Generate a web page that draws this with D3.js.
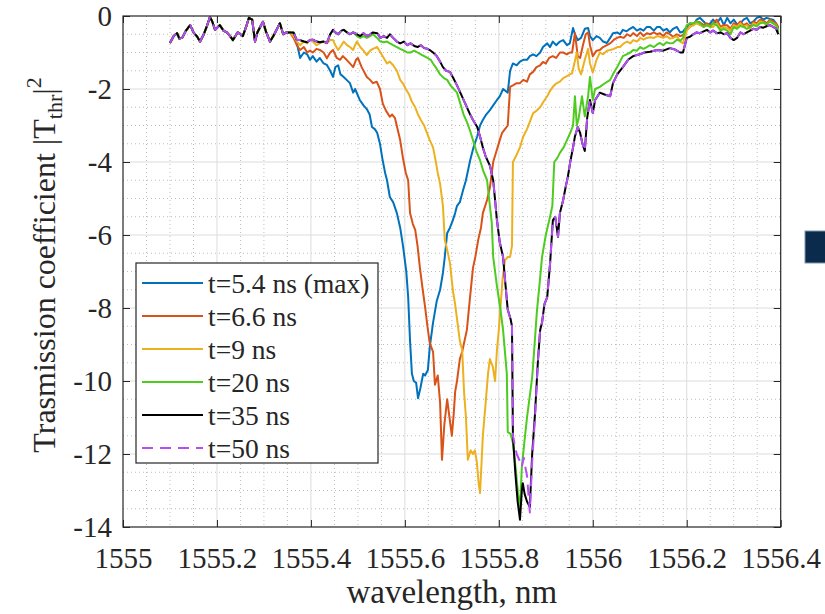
<!DOCTYPE html>
<html><head><meta charset="utf-8">
<script src="https://cdn.jsdelivr.net/npm/d3@7"></script>
<style>html,body{margin:0;padding:0;background:#fff;}svg{display:block;}</style>
</head><body>
<svg id="c" width="825" height="614"></svg>
<script>
// ---------------- DATA ----------------
const xTicks = [1555, 1555.2, 1555.4, 1555.6, 1555.8, 1556, 1556.2, 1556.4];
const xTickLabels = ["1555","1555.2","1555.4","1555.6","1555.8","1556","1556.2","1556.4"];
const yTicks = [0, -2, -4, -6, -8, -10, -12, -14];
const yTickLabels = ["0","-2","-4","-6","-8","-10","-12","-14"];
const seriesNames = ["t=5.4 ns (max)", "t=6.6 ns", "t=9 ns", "t=20 ns", "t=35 ns", "t=50 ns"];
const seriesColors = ["#0072BD", "#D95319", "#EDB120", "#4DCB1E", "#000000", "#B54EF5"];

// shared beginning (all curves coincide)
const commonStart = [[1555.100,-0.74],[1555.108,-0.55],[1555.115,-0.47],[1555.120,-0.62],[1555.126,-0.6],[1555.134,-0.4],[1555.143,-0.25],[1555.150,-0.45],[1555.157,-0.55],[1555.164,-0.7],[1555.172,-0.5],[1555.178,-0.3],[1555.185,-0.03],[1555.190,-0.15],[1555.196,-0.38],[1555.206,-0.25],[1555.214,-0.4],[1555.221,-0.45],[1555.228,-0.55],[1555.234,-0.66],[1555.244,-0.45],[1555.250,-0.5],[1555.255,-0.55],[1555.262,-0.3],[1555.268,-0.05],[1555.275,-0.1],[1555.281,-0.7],[1555.286,-0.45],[1555.292,-0.3],[1555.298,-0.16],[1555.305,-0.45],[1555.313,-0.7],[1555.320,-0.55],[1555.328,-0.35],[1555.334,-0.2],[1555.341,-0.5],[1555.348,-0.45],[1555.355,-0.45]];

const blueTail = [[1555.363,-0.5],[1555.370,-0.74],[1555.377,-1.15],[1555.385,-1.0],[1555.392,-1.05],[1555.398,-1.2],[1555.404,-1.1],[1555.412,-1.25],[1555.419,-1.15],[1555.427,-1.3],[1555.434,-1.34],[1555.441,-1.5],[1555.447,-1.67],[1555.452,-1.4],[1555.458,-1.35],[1555.463,-1.6],[1555.468,-1.65],[1555.476,-1.75],[1555.483,-1.84],[1555.490,-2.1],[1555.494,-2.0],[1555.504,-2.3],[1555.512,-2.45],[1555.519,-2.55],[1555.525,-2.7],[1555.530,-3.04],[1555.536,-3.1],[1555.541,-3.2],[1555.547,-3.5],[1555.552,-3.9],[1555.558,-4.3],[1555.562,-4.5],[1555.568,-4.96],[1555.575,-5.1],[1555.583,-5.4],[1555.590,-5.8],[1555.596,-6.3],[1555.603,-7.0],[1555.607,-7.7],[1555.611,-8.9],[1555.615,-9.8],[1555.619,-10.0],[1555.624,-10.05],[1555.628,-10.47],[1555.633,-10.2],[1555.639,-9.8],[1555.643,-9.85],[1555.649,-9.7],[1555.653,-9.07],[1555.660,-8.4],[1555.668,-7.8],[1555.675,-7.5],[1555.681,-7.04],[1555.685,-6.6],[1555.690,-5.95],[1555.696,-5.8],[1555.702,-5.6],[1555.707,-5.4],[1555.711,-5.2],[1555.717,-5.1],[1555.724,-4.77],[1555.730,-4.5],[1555.739,-3.95],[1555.746,-3.6],[1555.754,-3.3],[1555.760,-3.0],[1555.766,-2.85],[1555.773,-2.7],[1555.781,-2.58],[1555.788,-2.45],[1555.796,-2.3],[1555.802,-2.2],[1555.809,-2.0],[1555.819,-2.1],[1555.824,-1.5],[1555.830,-1.3],[1555.838,-1.35],[1555.845,-1.25],[1555.852,-1.2],[1555.860,-1.2],[1555.866,-1.1],[1555.873,-1.05],[1555.880,-1.1],[1555.888,-1.0],[1555.894,-0.85],[1555.903,-0.75],[1555.909,-0.85],[1555.915,-0.7],[1555.922,-0.8],[1555.930,-0.7],[1555.937,-0.66],[1555.945,-0.8],[1555.951,-0.75],[1555.958,-0.33],[1555.962,-0.5],[1555.968,-0.66],[1555.975,-0.6],[1555.983,-0.35],[1555.990,-0.33],[1555.994,-0.55],[1556.000,-0.66],[1556.008,-0.55],[1556.015,-0.6],[1556.022,-0.7],[1556.030,-0.74],[1556.037,-0.6],[1556.043,-0.47],[1556.052,-0.45],[1556.058,-0.5],[1556.064,-0.38],[1556.072,-0.42],[1556.079,-0.35],[1556.086,-0.3],[1556.094,-0.4],[1556.101,-0.35],[1556.108,-0.4],[1556.115,-0.3],[1556.122,-0.3],[1556.130,-0.4],[1556.137,-0.3],[1556.143,-0.3],[1556.150,-0.4],[1556.157,-0.35],[1556.164,-0.45],[1556.171,-0.35],[1556.179,-0.3],[1556.186,-0.45],[1556.192,-0.43],[1556.200,-0.3],[1556.207,-0.2],[1556.214,-0.25],[1556.221,-0.1],[1556.228,-0.05],[1556.236,-0.15],[1556.243,-0.25],[1556.250,-0.2],[1556.256,-0.1],[1556.264,-0.2],[1556.272,-0.05],[1556.279,-0.25],[1556.286,-0.05],[1556.293,-0.2],[1556.300,-0.1],[1556.307,-0.23],[1556.314,-0.2],[1556.321,-0.1],[1556.328,-0.05],[1556.335,-0.2],[1556.342,-0.15],[1556.349,-0.05],[1556.356,-0.02],[1556.363,-0.1],[1556.370,-0.05],[1556.377,-0.08],[1556.384,-0.1],[1556.390,-0.2],[1556.395,-0.35]];

const orangeTail = [[1555.363,-0.6],[1555.370,-0.8],[1555.377,-0.93],[1555.385,-0.85],[1555.392,-1.0],[1555.398,-0.95],[1555.404,-1.0],[1555.412,-0.9],[1555.419,-0.93],[1555.427,-1.0],[1555.434,-1.16],[1555.441,-1.0],[1555.447,-0.93],[1555.455,-1.15],[1555.462,-1.2],[1555.468,-1.1],[1555.476,-1.2],[1555.483,-1.3],[1555.490,-1.4],[1555.496,-1.2],[1555.500,-1.15],[1555.508,-1.4],[1555.519,-1.67],[1555.526,-1.75],[1555.532,-1.84],[1555.540,-1.8],[1555.547,-2.0],[1555.553,-2.4],[1555.560,-2.6],[1555.568,-2.76],[1555.573,-2.7],[1555.579,-2.8],[1555.590,-3.4],[1555.596,-3.9],[1555.602,-4.3],[1555.607,-4.5],[1555.611,-5.4],[1555.617,-5.7],[1555.622,-5.86],[1555.627,-6.3],[1555.632,-6.9],[1555.638,-7.5],[1555.643,-7.97],[1555.648,-8.5],[1555.653,-8.96],[1555.660,-9.2],[1555.664,-10.1],[1555.670,-9.85],[1555.675,-10.6],[1555.679,-12.16],[1555.684,-11.2],[1555.690,-10.5],[1555.695,-11.0],[1555.700,-11.5],[1555.704,-10.9],[1555.707,-10.3],[1555.711,-10.0],[1555.717,-9.4],[1555.722,-9.2],[1555.732,-8.6],[1555.738,-7.8],[1555.745,-6.9],[1555.750,-6.6],[1555.756,-6.14],[1555.762,-5.8],[1555.766,-5.4],[1555.775,-5.04],[1555.781,-4.7],[1555.788,-4.0],[1555.795,-3.7],[1555.802,-3.4],[1555.807,-3.2],[1555.813,-3.1],[1555.819,-3.0],[1555.824,-1.94],[1555.830,-1.9],[1555.838,-1.84],[1555.845,-1.84],[1555.852,-1.75],[1555.860,-1.8],[1555.866,-1.6],[1555.873,-1.53],[1555.880,-1.4],[1555.888,-1.35],[1555.894,-1.26],[1555.900,-1.3],[1555.907,-1.15],[1555.915,-1.1],[1555.922,-1.15],[1555.930,-1.0],[1555.937,-1.0],[1555.945,-1.05],[1555.951,-1.0],[1555.956,-1.0],[1555.962,-0.47],[1555.968,-1.1],[1555.973,-1.15],[1555.979,-0.8],[1555.985,-0.5],[1555.990,-0.45],[1555.994,-0.8],[1556.000,-1.1],[1556.008,-0.95],[1556.015,-0.93],[1556.022,-0.85],[1556.030,-0.8],[1556.037,-0.75],[1556.045,-0.65],[1556.052,-0.6],[1556.058,-0.57],[1556.066,-0.6],[1556.073,-0.5],[1556.080,-0.55],[1556.086,-0.47],[1556.094,-0.55],[1556.101,-0.45],[1556.108,-0.55],[1556.115,-0.47],[1556.122,-0.5],[1556.130,-0.45],[1556.137,-0.5],[1556.143,-0.47],[1556.150,-0.55],[1556.157,-0.45],[1556.164,-0.5],[1556.171,-0.57],[1556.179,-0.5],[1556.186,-0.55],[1556.192,-0.52],[1556.200,-0.35],[1556.207,-0.3],[1556.214,-0.2],[1556.221,-0.15],[1556.228,-0.17],[1556.236,-0.25],[1556.243,-0.2],[1556.250,-0.25],[1556.256,-0.2],[1556.264,-0.1],[1556.272,-0.3],[1556.279,-0.25],[1556.286,-0.25],[1556.293,-0.35],[1556.300,-0.2],[1556.307,-0.25],[1556.314,-0.15],[1556.321,-0.25],[1556.328,-0.2],[1556.335,-0.3],[1556.342,-0.15],[1556.349,-0.2],[1556.356,-0.1],[1556.363,-0.12],[1556.370,-0.2],[1556.377,-0.1],[1556.384,-0.15],[1556.390,-0.2],[1556.395,-0.3]];

const yellowTail = [[1555.363,-0.55],[1555.370,-0.7],[1555.377,-0.8],[1555.385,-0.7],[1555.392,-0.75],[1555.398,-0.65],[1555.404,-0.7],[1555.412,-0.8],[1555.419,-0.75],[1555.427,-0.7],[1555.434,-0.75],[1555.441,-0.66],[1555.447,-0.66],[1555.452,-0.8],[1555.458,-0.93],[1555.465,-0.8],[1555.470,-0.7],[1555.477,-0.8],[1555.483,-0.85],[1555.490,-0.93],[1555.494,-0.8],[1555.498,-0.7],[1555.505,-0.85],[1555.512,-0.95],[1555.519,-1.07],[1555.526,-0.95],[1555.532,-0.9],[1555.541,-0.85],[1555.548,-1.0],[1555.555,-1.15],[1555.562,-1.3],[1555.568,-1.25],[1555.575,-1.35],[1555.583,-1.5],[1555.590,-1.75],[1555.596,-1.85],[1555.602,-2.0],[1555.609,-2.15],[1555.615,-2.35],[1555.622,-2.5],[1555.628,-2.7],[1555.634,-2.85],[1555.641,-3.0],[1555.647,-3.2],[1555.653,-3.4],[1555.660,-3.6],[1555.666,-4.0],[1555.670,-4.3],[1555.675,-4.6],[1555.681,-5.2],[1555.685,-6.14],[1555.690,-6.4],[1555.696,-6.77],[1555.702,-7.5],[1555.707,-7.9],[1555.711,-8.3],[1555.717,-8.9],[1555.722,-9.15],[1555.726,-10.3],[1555.730,-11.0],[1555.734,-12.16],[1555.740,-11.9],[1555.745,-12.0],[1555.749,-11.9],[1555.753,-12.2],[1555.757,-12.8],[1555.760,-13.07],[1555.763,-12.3],[1555.766,-11.5],[1555.772,-10.6],[1555.777,-9.8],[1555.781,-9.4],[1555.787,-9.6],[1555.792,-10.0],[1555.796,-9.15],[1555.800,-8.6],[1555.804,-7.9],[1555.808,-7.2],[1555.813,-6.7],[1555.819,-6.6],[1555.824,-6.6],[1555.828,-6.3],[1555.830,-4.0],[1555.838,-3.8],[1555.845,-3.6],[1555.852,-3.3],[1555.860,-3.1],[1555.866,-2.9],[1555.873,-2.66],[1555.880,-2.6],[1555.888,-2.5],[1555.895,-2.35],[1555.903,-2.2],[1555.909,-2.05],[1555.915,-1.94],[1555.922,-1.85],[1555.930,-1.8],[1555.937,-1.7],[1555.945,-1.65],[1555.951,-1.6],[1555.956,-1.57],[1555.966,-1.0],[1555.970,-1.45],[1555.975,-1.6],[1555.983,-1.2],[1555.990,-0.9],[1555.994,-1.3],[1556.000,-1.55],[1556.008,-1.2],[1556.015,-1.0],[1556.022,-1.05],[1556.030,-0.95],[1556.037,-0.93],[1556.045,-0.9],[1556.052,-0.85],[1556.058,-0.85],[1556.066,-0.75],[1556.073,-0.7],[1556.080,-0.75],[1556.086,-0.66],[1556.094,-0.7],[1556.101,-0.6],[1556.108,-0.65],[1556.115,-0.6],[1556.122,-0.58],[1556.130,-0.6],[1556.137,-0.55],[1556.143,-0.57],[1556.150,-0.6],[1556.157,-0.55],[1556.164,-0.62],[1556.171,-0.6],[1556.179,-0.55],[1556.186,-0.7],[1556.192,-0.75],[1556.200,-0.4],[1556.207,-0.3],[1556.214,-0.25],[1556.221,-0.2],[1556.228,-0.25],[1556.236,-0.3],[1556.243,-0.25],[1556.250,-0.3],[1556.256,-0.3],[1556.264,-0.2],[1556.272,-0.35],[1556.279,-0.3],[1556.286,-0.33],[1556.293,-0.4],[1556.300,-0.25],[1556.307,-0.3],[1556.314,-0.2],[1556.321,-0.3],[1556.328,-0.25],[1556.335,-0.35],[1556.342,-0.2],[1556.349,-0.25],[1556.356,-0.15],[1556.363,-0.18],[1556.370,-0.25],[1556.377,-0.15],[1556.384,-0.2],[1556.390,-0.25],[1556.395,-0.4]];

const greenTail = [[1555.363,-0.45],[1555.370,-0.66],[1555.377,-0.66],[1555.385,-0.7],[1555.392,-0.72],[1555.398,-0.66],[1555.404,-0.65],[1555.412,-0.7],[1555.419,-0.72],[1555.427,-0.7],[1555.434,-0.74],[1555.441,-0.5],[1555.447,-0.4],[1555.452,-0.45],[1555.458,-0.5],[1555.465,-0.4],[1555.470,-0.38],[1555.477,-0.45],[1555.483,-0.5],[1555.490,-0.45],[1555.498,-0.55],[1555.505,-0.6],[1555.512,-0.55],[1555.519,-0.6],[1555.526,-0.55],[1555.532,-0.5],[1555.541,-0.6],[1555.548,-0.7],[1555.555,-0.72],[1555.562,-0.7],[1555.568,-0.75],[1555.575,-0.8],[1555.583,-0.85],[1555.590,-0.9],[1555.598,-0.95],[1555.605,-1.0],[1555.612,-1.0],[1555.620,-0.95],[1555.627,-1.0],[1555.634,-1.05],[1555.641,-1.1],[1555.648,-1.15],[1555.655,-1.2],[1555.660,-1.3],[1555.668,-1.45],[1555.675,-1.6],[1555.683,-1.7],[1555.690,-1.75],[1555.697,-1.9],[1555.704,-2.0],[1555.711,-2.1],[1555.718,-2.4],[1555.725,-2.7],[1555.732,-2.9],[1555.739,-3.15],[1555.745,-3.4],[1555.752,-3.7],[1555.760,-3.95],[1555.767,-4.25],[1555.775,-4.5],[1555.781,-5.2],[1555.785,-5.67],[1555.788,-6.6],[1555.796,-7.4],[1555.803,-8.0],[1555.809,-8.6],[1555.813,-9.2],[1555.817,-9.8],[1555.819,-11.4],[1555.825,-11.45],[1555.830,-11.7],[1555.836,-12.4],[1555.841,-13.1],[1555.845,-13.5],[1555.849,-12.35],[1555.855,-11.6],[1555.860,-11.0],[1555.866,-10.4],[1555.871,-9.9],[1555.875,-9.2],[1555.881,-8.1],[1555.887,-7.3],[1555.892,-6.6],[1555.900,-6.0],[1555.909,-5.5],[1555.914,-5.2],[1555.918,-4.0],[1555.924,-3.9],[1555.930,-3.75],[1555.938,-3.6],[1555.945,-3.4],[1555.952,-3.2],[1555.958,-3.0],[1555.962,-2.2],[1555.966,-3.0],[1555.970,-2.8],[1555.977,-2.2],[1555.983,-2.75],[1555.990,-2.2],[1555.994,-1.67],[1556.000,-2.3],[1556.005,-2.0],[1556.015,-1.94],[1556.025,-1.85],[1556.037,-1.75],[1556.045,-1.55],[1556.052,-1.4],[1556.058,-1.25],[1556.064,-1.1],[1556.072,-1.05],[1556.080,-1.0],[1556.086,-0.93],[1556.094,-0.95],[1556.101,-0.85],[1556.108,-0.9],[1556.115,-0.85],[1556.122,-0.8],[1556.130,-0.85],[1556.137,-0.78],[1556.143,-0.74],[1556.150,-0.8],[1556.157,-0.72],[1556.164,-0.75],[1556.171,-0.74],[1556.179,-0.65],[1556.186,-0.68],[1556.192,-0.6],[1556.200,-0.25],[1556.207,-0.2],[1556.214,-0.2],[1556.221,-0.15],[1556.228,-0.2],[1556.236,-0.3],[1556.243,-0.25],[1556.250,-0.3],[1556.256,-0.2],[1556.264,-0.25],[1556.272,-0.4],[1556.279,-0.35],[1556.286,-0.4],[1556.293,-0.5],[1556.300,-0.3],[1556.307,-0.35],[1556.314,-0.27],[1556.321,-0.3],[1556.328,-0.35],[1556.335,-0.3],[1556.342,-0.25],[1556.349,-0.28],[1556.356,-0.2],[1556.363,-0.18],[1556.370,-0.22],[1556.377,-0.15],[1556.384,-0.2],[1556.390,-0.25],[1556.395,-0.45]];

const blackTail = [[1555.363,-0.45],[1555.370,-0.66],[1555.377,-0.66],[1555.385,-0.7],[1555.392,-0.72],[1555.398,-0.66],[1555.404,-0.65],[1555.412,-0.7],[1555.419,-0.72],[1555.427,-0.7],[1555.434,-0.74],[1555.441,-0.5],[1555.447,-0.38],[1555.452,-0.45],[1555.458,-0.5],[1555.465,-0.4],[1555.470,-0.38],[1555.477,-0.45],[1555.483,-0.5],[1555.490,-0.45],[1555.498,-0.5],[1555.505,-0.55],[1555.512,-0.47],[1555.519,-0.55],[1555.526,-0.5],[1555.532,-0.45],[1555.541,-0.47],[1555.548,-0.6],[1555.555,-0.55],[1555.562,-0.6],[1555.568,-0.5],[1555.575,-0.6],[1555.583,-0.7],[1555.590,-0.75],[1555.598,-0.7],[1555.605,-0.8],[1555.612,-0.75],[1555.620,-0.82],[1555.627,-0.85],[1555.634,-0.8],[1555.641,-0.88],[1555.648,-0.9],[1555.655,-0.95],[1555.660,-1.0],[1555.668,-1.1],[1555.675,-1.25],[1555.681,-1.4],[1555.688,-1.5],[1555.696,-1.53],[1555.703,-1.7],[1555.711,-1.9],[1555.718,-2.1],[1555.725,-2.3],[1555.732,-2.5],[1555.739,-2.7],[1555.745,-2.85],[1555.754,-3.04],[1555.760,-3.3],[1555.766,-3.6],[1555.772,-3.85],[1555.781,-4.1],[1555.788,-4.5],[1555.792,-5.04],[1555.796,-5.6],[1555.802,-6.2],[1555.809,-6.6],[1555.813,-7.2],[1555.819,-8.05],[1555.825,-8.3],[1555.828,-8.5],[1555.830,-11.5],[1555.835,-12.5],[1555.840,-13.3],[1555.845,-13.8],[1555.849,-13.0],[1555.851,-12.8],[1555.855,-13.1],[1555.860,-13.3],[1555.866,-13.45],[1555.871,-12.0],[1555.877,-10.9],[1555.883,-9.5],[1555.888,-8.6],[1555.892,-8.4],[1555.897,-7.9],[1555.903,-7.7],[1555.909,-6.8],[1555.915,-5.6],[1555.920,-5.5],[1555.926,-6.05],[1555.930,-5.4],[1555.937,-5.04],[1555.942,-4.7],[1555.947,-4.4],[1555.952,-4.0],[1555.958,-3.6],[1555.962,-3.3],[1555.968,-3.04],[1555.973,-3.2],[1555.978,-3.5],[1555.983,-3.7],[1555.988,-2.8],[1555.994,-2.3],[1556.000,-2.66],[1556.005,-2.3],[1556.015,-2.1],[1556.025,-2.15],[1556.037,-2.2],[1556.043,-1.84],[1556.052,-1.6],[1556.064,-1.4],[1556.075,-1.2],[1556.086,-1.1],[1556.100,-1.05],[1556.110,-1.0],[1556.122,-0.98],[1556.137,-0.93],[1556.150,-0.95],[1556.164,-0.88],[1556.175,-0.92],[1556.186,-1.0],[1556.192,-1.0],[1556.200,-0.6],[1556.207,-0.57],[1556.214,-0.5],[1556.221,-0.45],[1556.228,-0.47],[1556.236,-0.42],[1556.243,-0.38],[1556.250,-0.45],[1556.256,-0.4],[1556.264,-0.47],[1556.272,-0.45],[1556.279,-0.5],[1556.286,-0.47],[1556.293,-0.6],[1556.300,-0.66],[1556.307,-0.6],[1556.314,-0.45],[1556.321,-0.5],[1556.328,-0.45],[1556.335,-0.4],[1556.342,-0.35],[1556.349,-0.38],[1556.356,-0.3],[1556.363,-0.32],[1556.370,-0.28],[1556.377,-0.25],[1556.384,-0.3],[1556.390,-0.35],[1556.395,-0.5]];

// t=50 ns differs from t=35 ns only around the minimum
const purpleBottom = [[1555.830,-11.5],[1555.838,-12.0],[1555.845,-12.2],[1555.849,-12.35],[1555.853,-12.1],[1555.857,-12.4],[1555.860,-12.6],[1555.866,-13.6],[1555.871,-12.2],[1555.877,-11.0]];

// ---------------- CHART ----------------
const blackFull = commonStart.concat(blackTail);
const purpleFull = blackFull.filter(d => d[0] < 1555.829 || d[0] > 1555.878).concat(purpleBottom).sort((a,b)=>a[0]-b[0]);
const allSeries = [
  commonStart.concat(blueTail),
  commonStart.concat(orangeTail),
  commonStart.concat(yellowTail),
  commonStart.concat(greenTail),
  blackFull,
  purpleFull
];

const svg = d3.select("#c");
const L = 123, R = 780.7, T = 16, B = 527;
const x = d3.scaleLinear().domain([1555, 1556.4]).range([L, R]);
const y = d3.scaleLinear().domain([-14, 0]).range([B, T]);
const axisColor = "#262626";
const font = "'Liberation Serif','Times New Roman',serif";

// minor grid
const xMinor = d3.range(1555, 1556.4001, 0.05).filter(v => Math.abs(Math.round(v*5) - v*5) > 1e-6);
const yMinor = d3.range(-14, 0.0001, 0.5).filter(v => Math.abs(v % 2) > 1e-6);
const g = svg.append("g");
g.selectAll(".mx").data(xMinor).join("line")
  .attr("x1", d => x(d)).attr("x2", d => x(d)).attr("y1", T).attr("y2", B)
  .attr("stroke", "#bdbdbd").attr("stroke-width", 1).attr("stroke-dasharray", "1,3");
g.selectAll(".my").data(yMinor).join("line")
  .attr("x1", L).attr("x2", R).attr("y1", d => y(d)).attr("y2", d => y(d))
  .attr("stroke", "#bdbdbd").attr("stroke-width", 1).attr("stroke-dasharray", "1,3");
// major grid
g.selectAll(".gx").data(xTicks.slice(1, -1)).join("line")
  .attr("x1", d => x(d)).attr("x2", d => x(d)).attr("y1", T).attr("y2", B)
  .attr("stroke", "#dcdcdc").attr("stroke-width", 1);
g.selectAll(".gy").data(yTicks.slice(1, -1)).join("line")
  .attr("x1", L).attr("x2", R).attr("y1", d => y(d)).attr("y2", d => y(d))
  .attr("stroke", "#dcdcdc").attr("stroke-width", 1);

// data
svg.append("clipPath").attr("id", "clip").append("rect")
  .attr("x", L).attr("y", T).attr("width", R - L).attr("height", B - T);
const line = d3.line().x(d => x(d[0])).y(d => y(d[1]));
const dg = svg.append("g").attr("clip-path", "url(#clip)");
allSeries.forEach((s, i) => {
  dg.append("path").datum(s).attr("d", line)
    .attr("fill", "none").attr("stroke", seriesColors[i]).attr("stroke-width", 2)
    .attr("stroke-linejoin", "round")
    .attr("stroke-dasharray", i === 5 ? "11,7" : null);
});

// axes with inward ticks
const tickLen = 7;
const xAxB = d3.axisBottom(x).tickValues(xTicks).tickFormat((d,i) => xTickLabels[i]).tickSizeInner(-tickLen).tickSizeOuter(0).tickPadding(20);
const xAxT = d3.axisTop(x).tickValues(xTicks).tickFormat("").tickSizeInner(-tickLen).tickSizeOuter(0);
const yAxL = d3.axisLeft(y).tickValues(yTicks).tickFormat((d,i) => yTickLabels[i]).tickSizeInner(-tickLen).tickSizeOuter(0).tickPadding(11);
const yAxR = d3.axisRight(y).tickValues(yTicks).tickFormat("").tickSizeInner(-tickLen).tickSizeOuter(0);
function styleAxis(sel) {
  sel.select(".domain").remove();
  sel.selectAll("line").attr("stroke", axisColor).attr("stroke-width", 1);
  sel.selectAll("text").attr("fill", axisColor).style("font-family", font).style("font-size", "29px");
}
svg.append("g").attr("transform", `translate(0,${B})`).call(xAxB).call(styleAxis);
svg.append("g").attr("transform", `translate(0,${T})`).call(xAxT).call(styleAxis);
svg.append("g").attr("transform", `translate(${L},0)`).call(yAxL).call(styleAxis);
svg.append("g").attr("transform", `translate(${R},0)`).call(yAxR).call(styleAxis);
// frame
svg.append("rect").attr("x", L).attr("y", T).attr("width", R - L).attr("height", B - T)
  .attr("fill", "none").attr("stroke", axisColor).attr("stroke-width", 1.2);

// axis labels
svg.append("text").attr("x", (L + R) / 2).attr("y", 603).attr("text-anchor", "middle")
  .attr("fill", axisColor).style("font-family", font).style("font-size", "33px").text("wavelength, nm");
const yl = svg.append("text").attr("transform", "translate(55,265) rotate(-90)").attr("text-anchor", "middle")
  .attr("fill", axisColor).style("font-family", font).style("font-size", "32px");
yl.append("tspan").text("Trasmission coefficient |T");
yl.append("tspan").attr("dy", 7).style("font-size", "22px").text("thr");
yl.append("tspan").attr("dy", -7).text("|");
yl.append("tspan").attr("dy", -14).style("font-size", "22px").text("2");

// legend
const lg = svg.append("g");
lg.append("rect").attr("x", 136).attr("y", 263).attr("width", 242).attr("height", 200)
  .attr("fill", "#fff").attr("stroke", axisColor).attr("stroke-width", 1.2);
seriesNames.forEach((n, i) => {
  const cy = 283 + i * 33;
  lg.append("line").attr("x1", 142).attr("x2", 203).attr("y1", cy).attr("y2", cy)
    .attr("stroke", seriesColors[i]).attr("stroke-width", 2)
    .attr("stroke-dasharray", i === 5 ? "11,7" : null);
  lg.append("text").attr("x", 208).attr("y", cy).attr("dy", "0.35em")
    .attr("fill", axisColor).style("font-family", font).style("font-size", "27.5px").text(n);
});

// cropped element at right edge
svg.append("rect").attr("x", 805).attr("y", 231).attr("width", 22).attr("height", 32)
  .attr("fill", "#0a2b4b").attr("stroke", "#7f97ad").attr("stroke-width", 1);
</script>
</body></html>
